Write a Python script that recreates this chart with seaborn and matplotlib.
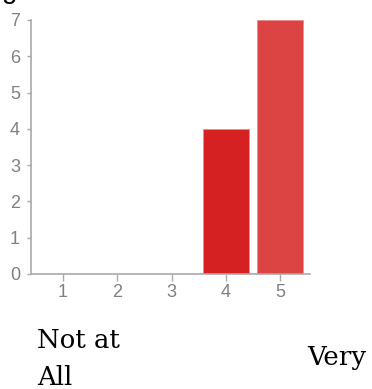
import matplotlib
matplotlib.use("Agg")
import matplotlib.pyplot as plt
import seaborn as sns
import pandas as pd

# Response counts per rating
ratings = ["1", "2", "3", "4", "5"]
counts = [0, 0, 0, 4, 7]
bar_colors = ["#d42020", "#d42020", "#d42020", "#d52121", "#dc4444"]
y_ticks = [0, 1, 2, 3, 4, 5, 6, 7]

sns.set_theme(style="white")
plt.rcParams["font.family"] = ["Liberation Sans", "DejaVu Sans"]

fig = plt.figure(figsize=(3.72, 3.89), dpi=100)
ax = fig.add_axes([31 / 372, 1 - 274 / 389, (310 - 31) / 372, (274 - 20) / 389])

df = pd.DataFrame({"rating": ratings, "count": counts})
sns.barplot(data=df, x="rating", y="count", hue="rating", palette=bar_colors,
            legend=False, width=0.85, ax=ax, edgecolor="#ef8a8a", linewidth=0.6,
            saturation=1)

ax.set_xlim(-0.59, 4.55)
ax.set_ylim(0, 7)
ax.set_yticks(y_ticks)
ax.set_xlabel("")
ax.set_ylabel("")

axis_grey = "#a9a9a9"
for side in ["top", "right"]:
    ax.spines[side].set_visible(False)
for side in ["left", "bottom"]:
    ax.spines[side].set_color(axis_grey)
    ax.spines[side].set_linewidth(1.2)

ax.tick_params(axis="y", direction="out", length=3, width=1, color=axis_grey,
               labelsize=13, labelcolor="#808080", pad=5, left=True)
ax.tick_params(axis="x", direction="out", length=5, width=1, color=axis_grey,
               labelsize=13, labelcolor="#808080", pad=2, bottom=True)

# Scale anchors below the chart
serif = ["DejaVu Serif"]
fig.text(37 / 372, 1 - 348 / 389, "Not at", family=serif, fontsize=18.7,
         color="black", ha="left", va="baseline")
fig.text(37 / 372, 1 - 385 / 389, "All", family=serif, fontsize=18.7,
         color="black", ha="left", va="baseline")
fig.text(307 / 372, 1 - 365 / 389, "Very", family=serif, fontsize=18.7,
         color="black", ha="left", va="baseline")

# Heading line above the chart, mostly outside the canvas
fig.text(2 / 372, 1 + 2 / 389, "g", family=["Liberation Sans"], fontsize=20,
         color="black", ha="left", va="baseline")

fig.savefig("out.png", dpi=100)
